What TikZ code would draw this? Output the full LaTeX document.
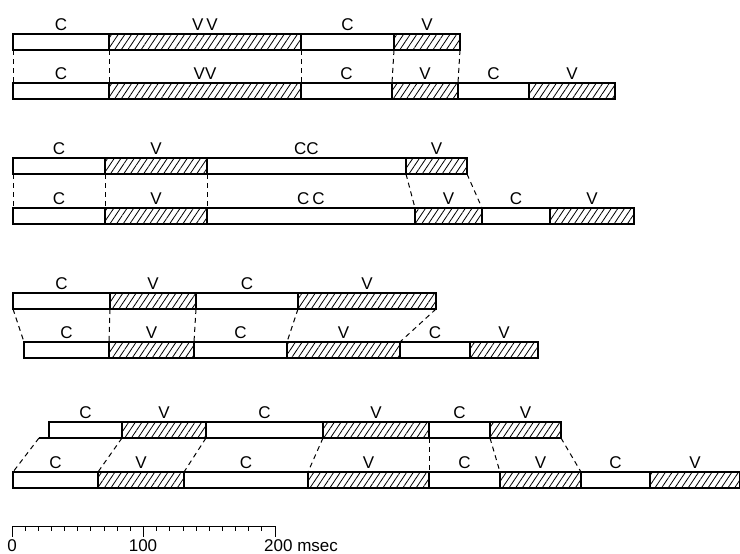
\documentclass[tikz,border=0pt]{standalone}
\usepackage{fontspec}
\setmainfont{Liberation Sans}
\usetikzlibrary{patterns.meta}
\tikzset{
    every node/.style={font=\fontsize{17}{20}\selectfont},
    cseg/.style={draw,line width=1.2pt,inner sep=0pt,outer sep=0pt,minimum height=16pt,anchor=south west,label distance=0.5pt},
    vseg/.style={cseg,pattern={Lines[angle=56,distance=5.5pt,line width=0.8pt]}},
    link/.style={draw,dash pattern=on 5pt off 4pt,line width=1pt},
    baseline4/.style={draw,line width=2pt},
    tickline/.style={draw,line width=0.9pt}
}
\begin{document}
\begin{tikzpicture}[x=1pt,y=-1pt]
\useasboundingbox (0,0) rectangle (740,554);
% first pair
\foreach \n/\a/\b/\s/\lab in {p1t1/13/109/cseg/C,p1t2/109/301/vseg/V\kern3pt V,p1t3/301/394/cseg/C,p1t4/394/460/vseg/V}{
    \node[\s,minimum width=\b-\a,label=above:\lab] (\n) at (\a,50) {};
}
\foreach \n/\a/\b/\s/\lab in {p1b1/13/109/cseg/C,p1b2/109/301/vseg/VV,p1b3/301/392/cseg/C,p1b4/392/458/vseg/V,p1b5/458/529/cseg/C,p1b6/529/615/vseg/V}{
    \node[\s,minimum width=\b-\a,label=above:\lab] (\n) at (\a,99) {};
}
\foreach \i in {1,...,4}{
    \draw[link] (p1t\i.south west) -- (p1b\i.north west);
}
\draw[link] (p1t4.south east) -- (p1b4.north east);
% second pair
\foreach \n/\a/\b/\s/\lab in {p2t1/13/105/cseg/C,p2t2/105/207/vseg/V,p2t3/207/406/cseg/CC,p2t4/406/467/vseg/V}{
    \node[\s,minimum width=\b-\a,label=above:\lab] (\n) at (\a,174) {};
}
\foreach \n/\a/\b/\s/\lab in {p2b1/13/105/cseg/C,p2b2/105/207/vseg/V,p2b3/207/415/cseg/C\kern3pt C,p2b4/415/482/vseg/V,p2b5/482/550/cseg/C,p2b6/550/634/vseg/V}{
    \node[\s,minimum width=\b-\a,label=above:\lab] (\n) at (\a,224) {};
}
\foreach \i in {1,...,4}{
    \draw[link] (p2t\i.south west) -- (p2b\i.north west);
}
\draw[link] (p2t4.south east) -- (p2b4.north east);
% third pair
\foreach \n/\a/\b/\s/\lab in {p3t1/13/110/cseg/C,p3t2/110/196/vseg/V,p3t3/196/298/cseg/C,p3t4/298/436/vseg/V}{
    \node[\s,minimum width=\b-\a,label=above:\lab] (\n) at (\a,309) {};
}
\foreach \n/\a/\b/\s/\lab in {p3b1/24/109/cseg/C,p3b2/109/194/vseg/V,p3b3/194/287/cseg/C,p3b4/287/400/vseg/V,p3b5/400/470/cseg/C,p3b6/470/538/vseg/V}{
    \node[\s,minimum width=\b-\a,label=above:\lab] (\n) at (\a,358) {};
}
\foreach \i in {1,...,4}{
    \draw[link] (p3t\i.south west) -- (p3b\i.north west);
}
\draw[link] (p3t4.south east) -- (p3b4.north east);
% fourth pair
\foreach \n/\a/\b/\s/\lab in {p4t1/49/122/cseg/C,p4t2/122/206/vseg/V,p4t3/206/323/cseg/C,p4t4/323/429/vseg/V,p4t5/429/490/cseg/C,p4t6/490/561/vseg/V}{
    \node[\s,minimum width=\b-\a,label=above:\lab] (\n) at (\a,438) {};
}
\foreach \n/\a/\b/\s/\lab in {p4b1/13/98/cseg/C,p4b2/98/184/vseg/V,p4b3/184/308/cseg/C,p4b4/308/429/vseg/V,p4b5/429/500/cseg/C,p4b6/500/581/vseg/V,p4b7/581/650/cseg/C,p4b8/650/740/vseg/V}{
    \node[\s,minimum width=\b-\a,label=above:\lab] (\n) at (\a,488) {};
}
\coordinate (base4w) at (39,438);
\coordinate (base4e) at (228,438);
\draw[baseline4] (base4w) -- (base4e);
\draw[link] (base4w) -- (p4b1.north west);
\foreach \i in {2,...,6}{
    \draw[link] (p4t\i.south west) -- (p4b\i.north west);
}
\draw[link] (p4t6.south east) -- (p4b6.north east);
% time scale
\coordinate (s0) at (12,526);
\coordinate (s200) at (275,526);
\draw[tickline] (s0) -- (s200);
\foreach \k in {0,...,20}{
    \pgfmathsetmacro\tl{mod(\k,10)==0 ? 11 : 5}
    \draw[tickline] (12+\k*13.15,526) -- ++(0,\tl);
}
\node (t0) at (12,546) {0};
\node (t100) at (143,546) {100};
\node[anchor=west,inner sep=0pt] (t200) at (264,546) {200 msec};
\end{tikzpicture}
\end{document}
